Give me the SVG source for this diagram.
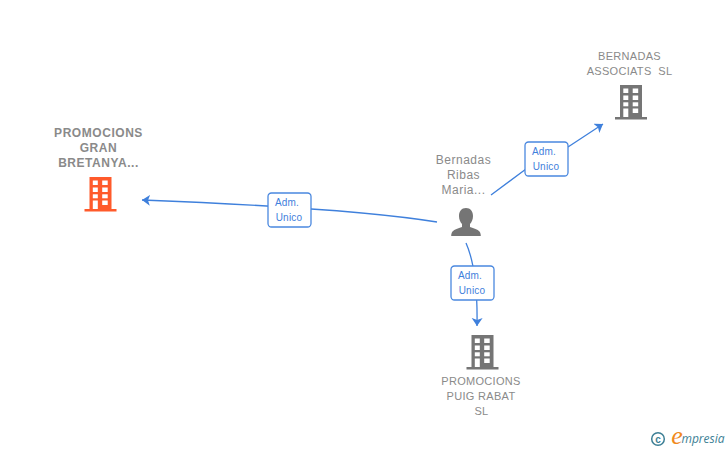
<svg xmlns="http://www.w3.org/2000/svg" width="728" height="450" viewBox="0 0 728 450">
<style>
text{font-family:"Liberation Sans",Arial,sans-serif;fill:#8a8a8a;text-anchor:middle}
.n{font-size:11px;letter-spacing:.3px}
.b{font-weight:bold;font-size:12px;letter-spacing:.55px}
.p{font-size:12px;letter-spacing:.5px}
.l{font-size:10px;fill:#3f80dc;letter-spacing:.2px}
.c{fill:none;stroke:#3f80dc;stroke-width:1.3}
.box{fill:#fff;stroke:#4a88df;stroke-width:1.3}
.w{fill:#fff}
</style>
<defs>
<marker id="a" markerWidth="12" markerHeight="12" refX="8" refY="5.500" orient="auto" markerUnits="userSpaceOnUse"><path d="M0 0L8 5.500L0 11L2 5.500Z" fill="#3f80dc"/></marker>
<g id="bld">
<path d="M-16 15h32v2.500h-32z M-11 -17h22v33h-22z"/>
<g class="w">
<rect x="-7.700" y="-13.500" width="5" height="4.500"/><rect x="1.700" y="-13.500" width="5.500" height="4.500"/>
<rect x="-7.700" y="-6.500" width="5" height="4.500"/><rect x="1.700" y="-6.500" width="5.500" height="4.500"/>
<rect x="-7.700" y="0.300" width="5" height="4"/><rect x="1.700" y="0.300" width="5.500" height="4"/>
<rect x="-7.700" y="6.500" width="5" height="8.500"/><rect x="1.700" y="6.500" width="5.500" height="4.500"/>
</g>
</g>
</defs>
<g id="connectors">
<path class="c" d="M437 222Q350 208 142 200" marker-end="url(#a)"/>
<path class="c" d="M491 195L526 169M568 147L603 124" marker-end="url(#a)"/>
<path class="c" d="M466 243Q478 270 477 326" marker-end="url(#a)"/>
</g>
<g id="label-1"><rect class="box" x="268" y="193" width="43" height="34" rx="3.500"/><text class="l" x="287" y="206">Adm.</text><text class="l" x="289" y="221">Unico</text></g>
<g id="label-2"><rect class="box" x="525" y="142" width="43" height="34" rx="3.500"/><text class="l" x="544" y="155">Adm.</text><text class="l" x="546" y="170">Unico</text></g>
<g id="label-3"><rect class="box" x="451" y="266" width="43" height="34" rx="3.500"/><text class="l" x="470" y="279">Adm.</text><text class="l" x="472" y="294">Unico</text></g>
<g id="node-gran-bretanya">
<text class="b" x="98.500" y="137">PROMOCIONS</text><text class="b" x="98.500" y="152">GRAN</text><text class="b" x="98.500" y="167">BRETANYA...</text>
<use href="#bld" x="100.500" y="194" fill="#ff5a2b"/>
</g>
<g id="node-bernadas-associats">
<text class="n" x="629.500" y="60">BERNADAS</text><text class="n" x="629.500" y="75" xml:space="preserve">ASSOCIATS  SL</text>
<use href="#bld" x="631" y="102" fill="#757575"/>
</g>
<g id="node-puig-rabat">
<use href="#bld" x="482.500" y="352" fill="#757575"/>
<text class="n" x="481" y="385">PROMOCIONS</text><text class="n" x="481" y="400">PUIG RABAT</text><text class="n" x="481.500" y="415">SL</text>
</g>
<g id="node-person">
<text class="p" x="463.500" y="164">Bernadas</text><text class="p" x="463.500" y="179">Ribas</text><text class="p" x="463.500" y="194">Maria...</text>
<path fill="#757575" d="M466 208c4.500 0 7 3.500 7 8 0 3.500-1.300 6-3 8v3c4 1.500 7.500 2 9.500 4.500 1 1.300 1.300 3 1.300 4.500h-29.600c0-1.500 .3-3.200 1.300-4.500 2-2.500 5.500-3 9.500-4.500v-3c-1.700-2-3-4.500-3-8 0-4.500 2.500-8 7-8z"/>
</g>
<g id="logo">
<circle cx="658" cy="439" r="6.300" fill="none" stroke="#3d7f95" stroke-width="1.500"/>
<text x="658" y="442.500" style="font-size:10px;fill:#3d7f95;font-weight:bold">c</text>
<text x="677" y="444" style="font-family:'Liberation Serif',serif;font-style:italic;font-size:26px;fill:#f08a1d">e</text>
<text x="703" y="443" style="font-family:'Open Sans',sans-serif;font-style:italic;font-size:12px;fill:#3d7f95">mpresia</text>
</g>
</svg>
